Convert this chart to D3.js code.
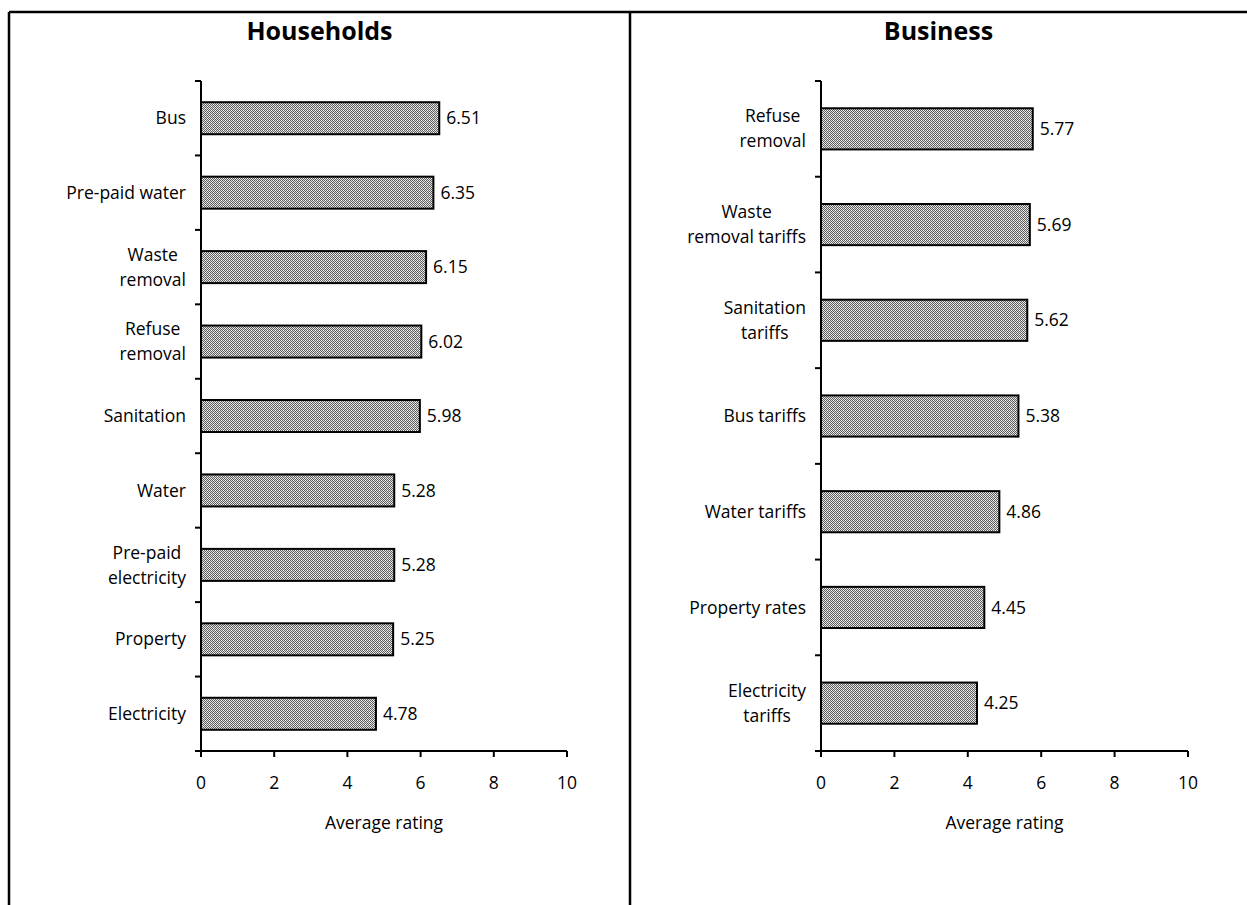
<!DOCTYPE html>
<html><head><meta charset="utf-8">
<script src="https://cdn.jsdelivr.net/npm/d3@7"></script>
<style>
html,body{margin:0;padding:0;background:#fff;}
svg{display:block;font-family:"Open Sans",Lato,sans-serif;}
</style></head>
<body>
<script>
// ---- data ----
const householdCategories = ["Bus","Pre-paid water","Waste\nremoval","Refuse\nremoval","Sanitation","Water","Pre-paid\nelectricity","Property","Electricity"];
const householdValues = [6.51,6.35,6.15,6.02,5.98,5.28,5.28,5.25,4.78];
const businessCategories = ["Refuse\nremoval","Waste\nremoval tariffs","Sanitation\ntariffs","Bus tariffs","Water tariffs","Property rates","Electricity\ntariffs"];
const businessValues = [5.77,5.69,5.62,5.38,4.86,4.45,4.25];
const xTickValues = [0,2,4,6,8,10];
const panelTitles = ["Households","Business"];
const axisTitle = "Average rating";

const W = 1247, H = 905;
const FS = 17.5;
const svg = d3.select("body").append("svg").attr("width",W).attr("height",H);

// pattern
const defs = svg.append("defs");
const pat = defs.append("pattern").attr("id","hatch").attr("patternUnits","userSpaceOnUse")
  .attr("width",4).attr("height",4);
pat.append("rect").attr("width",4).attr("height",4).attr("fill","#dedede");
[[0,0],[2,0],[1,1],[3,1],[0,2],[2,2],[1,3],[3,3]].forEach(([x,y])=>{
  pat.append("rect").attr("x",x).attr("y",y).attr("width",1).attr("height",1).attr("fill","#5e5e5e");
});
[[1,0],[3,2]].forEach(([x,y])=>{
  pat.append("rect").attr("x",x).attr("y",y).attr("width",1).attr("height",1).attr("fill","#ffffff");
});

// frame
svg.append("line").attr("x1",9).attr("x2",W).attr("y1",12).attr("y2",12).attr("stroke","#000").attr("stroke-width",2.5);
svg.append("line").attr("x1",9).attr("x2",9).attr("y1",12).attr("y2",H).attr("stroke","#000").attr("stroke-width",2.5);
svg.append("line").attr("x1",630).attr("x2",630).attr("y1",12).attr("y2",H).attr("stroke","#000").attr("stroke-width",2.5);

function panel(cfg){
  const g = svg.append("g");
  const x = d3.scaleLinear().domain([0,10]).range([cfg.x0,cfg.x1]);
  const y = d3.scaleBand().domain(cfg.cats).range([81,751]).padding(0);
  const bw = y.bandwidth();
  const barH = bw*0.43;

  // title
  g.append("text").attr("x",cfg.titleX).attr("y",40).attr("text-anchor","middle")
    .attr("font-size",25).attr("font-weight","bold").text(cfg.title);

  // bars
  g.selectAll("rect.bar").data(cfg.vals).enter().append("rect")
    .attr("x",x(0)).attr("y",(d,i)=>y(cfg.cats[i])+(bw-barH)/2)
    .attr("width",d=>x(d)-x(0)).attr("height",barH)
    .attr("fill","url(#hatch)").attr("stroke","#000").attr("stroke-width",2);

  // value labels
  g.selectAll("text.val").data(cfg.vals).enter().append("text")
    .attr("x",d=>x(d)+7).attr("y",(d,i)=>y(cfg.cats[i])+bw/2).attr("dy","0.35em")
    .attr("font-size",FS).text(d=>d.toFixed(2));

  // y axis
  const yl = g.append("g");
  yl.append("line").attr("x1",x(0)).attr("x2",x(0)).attr("y1",y.range()[0]).attr("y2",y.range()[1])
    .attr("stroke","#000").attr("stroke-width",2);
  const bounds = cfg.cats.map(c=>y(c)).concat([y.range()[1]]);
  yl.selectAll("line.tk").data(bounds).enter().append("line")
    .attr("x1",x(0)-6).attr("x2",x(0)).attr("y1",d=>d).attr("y2",d=>d)
    .attr("stroke","#000").attr("stroke-width",2);

  // category labels
  cfg.cats.forEach(c=>{
    const lines = c.split("\n");
    const t = g.append("text").attr("font-size",FS).attr("fill","#000");
    const lh = 25;
    const cy = y(c)+bw/2;
    const tsp = lines.map((l,i)=>t.append("tspan").attr("y",cy+(i-(lines.length-1)/2)*lh).attr("dy","0.35em").text(l));
    const maxW = d3.max(tsp,s=>s.node().getComputedTextLength());
    const right = x(0)-15;
    tsp.forEach(s=>s.attr("x",right-maxW/2).attr("text-anchor","middle"));
  });

  // x axis
  const xa = g.append("g").attr("transform","translate(0,751)");
  xa.append("line").attr("x1",x(0)).attr("x2",x(10)).attr("y1",0).attr("y2",0).attr("stroke","#000").attr("stroke-width",2);
  xa.selectAll("line.tk").data(xTickValues).enter().append("line")
    .attr("x1",d=>x(d)).attr("x2",d=>x(d)).attr("y1",0).attr("y2",6).attr("stroke","#000").attr("stroke-width",2);
  xa.selectAll("text").data(xTickValues).enter().append("text")
    .attr("x",d=>x(d)).attr("y",32).attr("dy","0.35em").attr("text-anchor","middle").attr("font-size",FS).text(d=>d);
  g.append("text").attr("x",(x(0)+x(10))/2).attr("y",823).attr("dy","0.35em").attr("text-anchor","middle")
    .attr("font-size",FS).text(axisTitle);
}

panel({x0:201,x1:567,cats:householdCategories,vals:householdValues,title:panelTitles[0],titleX:319.5});
panel({x0:821,x1:1188,cats:businessCategories,vals:businessValues,title:panelTitles[1],titleX:938.5});
</script>
</body></html>
